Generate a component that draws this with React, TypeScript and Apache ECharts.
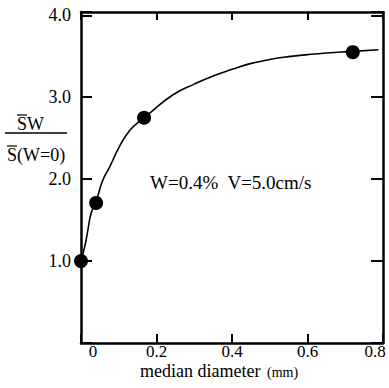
import React, { useEffect, useRef } from 'react';
import * as echarts from 'echarts';

const xTickValues = [0, 0.2, 0.4, 0.6, 0.8];
const yTickValues = [0, 1, 2, 3, 4];
const yMax = 4.04;
const pointX = [0.0, 0.04, 0.167, 0.72];
const pointY = [1.0, 1.71, 2.75, 3.55];
const curveX = [0, 0.011, 0.019, 0.024, 0.032, 0.04, 0.045, 0.058, 0.077, 0.103, 0.13, 0.156, 0.183, 0.244, 0.3, 0.35, 0.4, 0.448, 0.5, 0.55, 0.6, 0.65, 0.72, 0.788];
const curveY = [1.0, 1.2, 1.4, 1.53, 1.65, 1.71, 1.8, 1.99, 2.16, 2.41, 2.6, 2.71, 2.81, 3.03, 3.16, 3.26, 3.34, 3.41, 3.46, 3.495, 3.52, 3.54, 3.56, 3.58];
const annotation = 'W=0.4%  V=5.0cm/s';
const xTitle = 'median diameter';
const xUnit = '(mm)';
const yNumer = 'SW';
const yDenom = 'S(W=0)';

const FONT = "'Liberation Serif', 'Times New Roman', Times, serif";

export default function App() {
  const ref = useRef<HTMLDivElement>(null);
  useEffect(() => {
    if (!ref.current) return;
    const chart = echarts.init(ref.current, null, { renderer: 'svg' });
    const lineData = curveX.map((x, i) => [x, curveY[i]]);
    const pts = pointX.map((x, i) => [x, pointY[i]]);
    const axisLine = { show: true, onZero: false, lineStyle: { color: '#000', width: 2.5 } };
    const xMin = xTickValues[0];
    const xMax = xTickValues[xTickValues.length - 1];
    const xInt = xTickValues[1] - xTickValues[0];
    const yInt = yTickValues[1] - yTickValues[0];
    chart.setOption({
      animation: false,
      backgroundColor: '#fff',
      textStyle: { fontFamily: FONT },
      grid: { left: 81, right: 6, top: 12, bottom: 45, containLabel: false },
      xAxis: [
        {
          type: 'value', min: xMin, max: xMax, interval: xInt, position: 'bottom',
          axisLine,
          axisTick: { show: true, inside: true, length: 9, lineStyle: { color: '#000', width: 2 } },
          splitLine: { show: false },
          axisLabel: {
            show: true, margin: 0, color: '#000', fontSize: 17, fontFamily: FONT,
            formatter: (v: number) => {
              if (Math.abs(v - xMin) < 1e-6) return '{l|' + xMin.toFixed(0) + '}';
              if (Math.abs(v - xMax) < 1e-6) return '{r|' + xMax.toFixed(1) + '}';
              return v.toFixed(1);
            },
            rich: {
              l: { fontSize: 17, fontFamily: FONT, color: '#000', padding: [0, 0, 0, 24] },
              r: { fontSize: 17, fontFamily: FONT, color: '#000', padding: [0, 16, 0, 0] },
            },
          },
        },
        {
          type: 'value', min: xMin, max: xMax, interval: xInt, position: 'top',
          axisLine,
          axisTick: { show: true, inside: true, length: 8, lineStyle: { color: '#000', width: 2 } },
          splitLine: { show: false },
          axisLabel: { show: false },
        },
      ],
      yAxis: [
        {
          type: 'value', min: yTickValues[0], max: yMax, interval: yInt, position: 'left',
          axisLine,
          axisTick: { show: true, inside: true, length: 11, lineStyle: { color: '#000', width: 2 } },
          splitLine: { show: false },
          axisLabel: {
            show: true, margin: 10, color: '#000', fontSize: 18, fontFamily: FONT,
            formatter: (v: number) => {
              if (Math.abs(v - Math.round(v)) > 1e-6) return '';
              if (v === 0) return '';
              return v.toFixed(1);
            },
          },
        },
        {
          type: 'value', min: yTickValues[0], max: yMax, interval: yInt, position: 'right',
          axisLine,
          axisTick: { show: true, inside: true, length: 12, lineStyle: { color: '#000', width: 2 } },
          splitLine: { show: false },
          axisLabel: { show: false },
        },
      ],
      series: [
        {
          type: 'line', data: lineData, smooth: true, showSymbol: false, symbol: 'none',
          lineStyle: { color: '#000', width: 1.6 }, xAxisIndex: 0, yAxisIndex: 0, z: 3,
        },
        {
          type: 'scatter', data: pts, symbol: 'circle', symbolSize: 14,
          itemStyle: { color: '#000', opacity: 1 }, xAxisIndex: 0, yAxisIndex: 0, z: 4,
        },
      ],
      graphic: [
        { type: 'text', x: 150, y: 182, style: { text: annotation, fontSize: 19, fontFamily: FONT, fill: '#000', align: 'left', verticalAlign: 'middle' } },
        { type: 'text', x: 140, y: 371, style: { text: xTitle, fontSize: 18, fontFamily: FONT, fill: '#000', align: 'left', verticalAlign: 'middle' } },
        { type: 'text', x: 267, y: 372, style: { text: xUnit, fontSize: 14, fontFamily: FONT, fill: '#000', align: 'left', verticalAlign: 'middle' } },
        { type: 'text', x: 17, y: 124, style: { text: yNumer, fontSize: 18, fontFamily: FONT, fill: '#000', align: 'left', verticalAlign: 'middle' } },
        { type: 'text', x: 7, y: 155, style: { text: yDenom, fontSize: 18, fontFamily: FONT, fill: '#000', align: 'left', verticalAlign: 'middle' } },
        { type: 'line', shape: { x1: 5, y1: 133, x2: 67, y2: 133 }, style: { stroke: '#000', lineWidth: 1.5 } },
        { type: 'line', shape: { x1: 17, y1: 115, x2: 27, y2: 115 }, style: { stroke: '#000', lineWidth: 1.2 } },
        { type: 'line', shape: { x1: 7, y1: 146, x2: 17, y2: 146 }, style: { stroke: '#000', lineWidth: 1.2 } },
      ],
    });
    return () => chart.dispose();
  }, []);
  return <div ref={ref} style={{ position: 'fixed', left: 0, top: 0, width: 389, height: 388, background: '#fff' }} />;
}
